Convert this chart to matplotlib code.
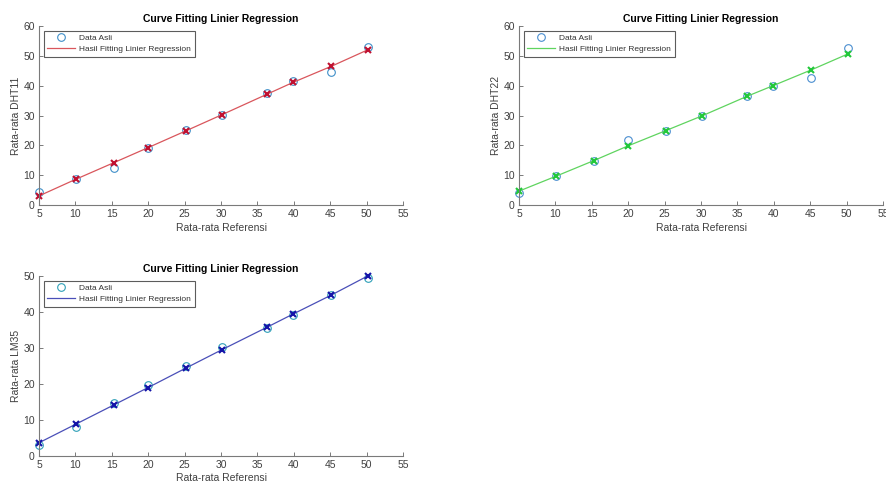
import numpy as np
import matplotlib
matplotlib.use('Agg')
import matplotlib.pyplot as plt

plt.rcParams['font.family'] = ['Liberation Sans', 'DejaVu Sans']

# reference temperatures (x) - same for all three sensors
ref = [5.05, 10.03, 15.29, 19.96, 25.13, 30.16, 36.29, 39.9, 45.16, 50.24]

# DHT11
dht11_data = [4.2, 8.7, 12.3, 19.2, 25.1, 30.3, 37.5, 41.5, 44.7, 53.1]
dht11_fit = [3.1, 8.6, 14.2, 19.2, 24.8, 30.3, 37.1, 41.1, 46.5, 52.1]

# DHT22
dht22_data = [3.9, 9.7, 14.9, 21.7, 24.9, 29.9, 36.4, 40.0, 42.5, 52.6]
dht22_fit = [4.7, 9.6, 14.9, 19.8, 24.9, 29.9, 36.4, 40.0, 45.3, 50.7]

# LM35
lm35_data = [2.9, 7.9, 14.6, 19.6, 25.0, 30.1, 35.6, 39.1, 44.7, 49.5]
lm35_fit = [3.6, 8.7, 14.1, 18.9, 24.3, 29.5, 35.7, 39.4, 44.7, 50.1]

title = 'Curve Fitting Linier Regression'
xlab = 'Rata-rata Referensi'

panels = [
    # (axes rect, y data, fit, ylabel, ymax, circle colour, line colour, cross colour)
    ([39/886, 1-205/483, 364/886, 179/483], dht11_data, dht11_fit, 'Rata-rata DHT11', 60,
     '#3f8fc9', '#d9565c', '#c01030'),
    ([519/886, 1-205/483, 364/886, 179/483], dht22_data, dht22_fit, 'Rata-rata DHT22', 60,
     '#4a8ed0', '#5fd45f', '#22c83a'),
    ([39/886, 1-455.5/483, 364/886, 179.5/483], lm35_data, lm35_fit, 'Rata-rata LM35', 50,
     '#2fa0b8', '#4a4fb8', '#1414a8'),
]

fig = plt.figure(figsize=(8.86, 4.83), dpi=100)

for rect, ydat, yfit, ylab, ymax, c_circ, c_line, c_x in panels:
    ax = fig.add_axes(rect)
    ax.plot(ref, ydat, 'o', mfc='none', mec=c_circ, ms=5.5, mew=0.8,
            label='Data Asli', clip_on=False)
    ax.plot(ref, yfit, '-', color=c_line, lw=0.9, label='Hasil Fitting Linier Regression',
            clip_on=False)
    ax.plot(ref, yfit, 'x', color=c_x, ms=4.5, mew=1.5, clip_on=False)
    ax.set_xlim(5, 55)
    ax.set_ylim(0, ymax)
    ax.set_xticks(np.arange(5, 56, 5))
    ax.set_yticks(np.arange(0, ymax + 1, 10))
    for s in ['top', 'right']:
        ax.spines[s].set_visible(False)
    for s in ['left', 'bottom']:
        ax.spines[s].set_color('#7a7a7a')
        ax.spines[s].set_linewidth(0.8)
    ax.tick_params(direction='in', length=3, width=0.7, colors='#7a7a7a',
                   labelcolor='#404040', labelsize=7.5, pad=3)
    ax.set_title(title, fontsize=7.5, fontweight='bold', pad=3)
    ax.set_xlabel(xlab, fontsize=7.5, color='#404040', labelpad=2.5)
    ax.set_ylabel(ylab, fontsize=7.5, color='#404040', labelpad=1.5)
    leg = ax.legend(loc='upper left', fontsize=6, frameon=True, fancybox=False,
                    handlelength=3.3, borderaxespad=0.55, borderpad=0.45,
                    labelspacing=0.35, handletextpad=0.5)
    leg.get_frame().set_edgecolor('#333333')
    leg.get_frame().set_linewidth(0.8)
    for t in leg.get_texts():
        t.set_color('#333333')

fig.savefig('out.png', dpi=100)
